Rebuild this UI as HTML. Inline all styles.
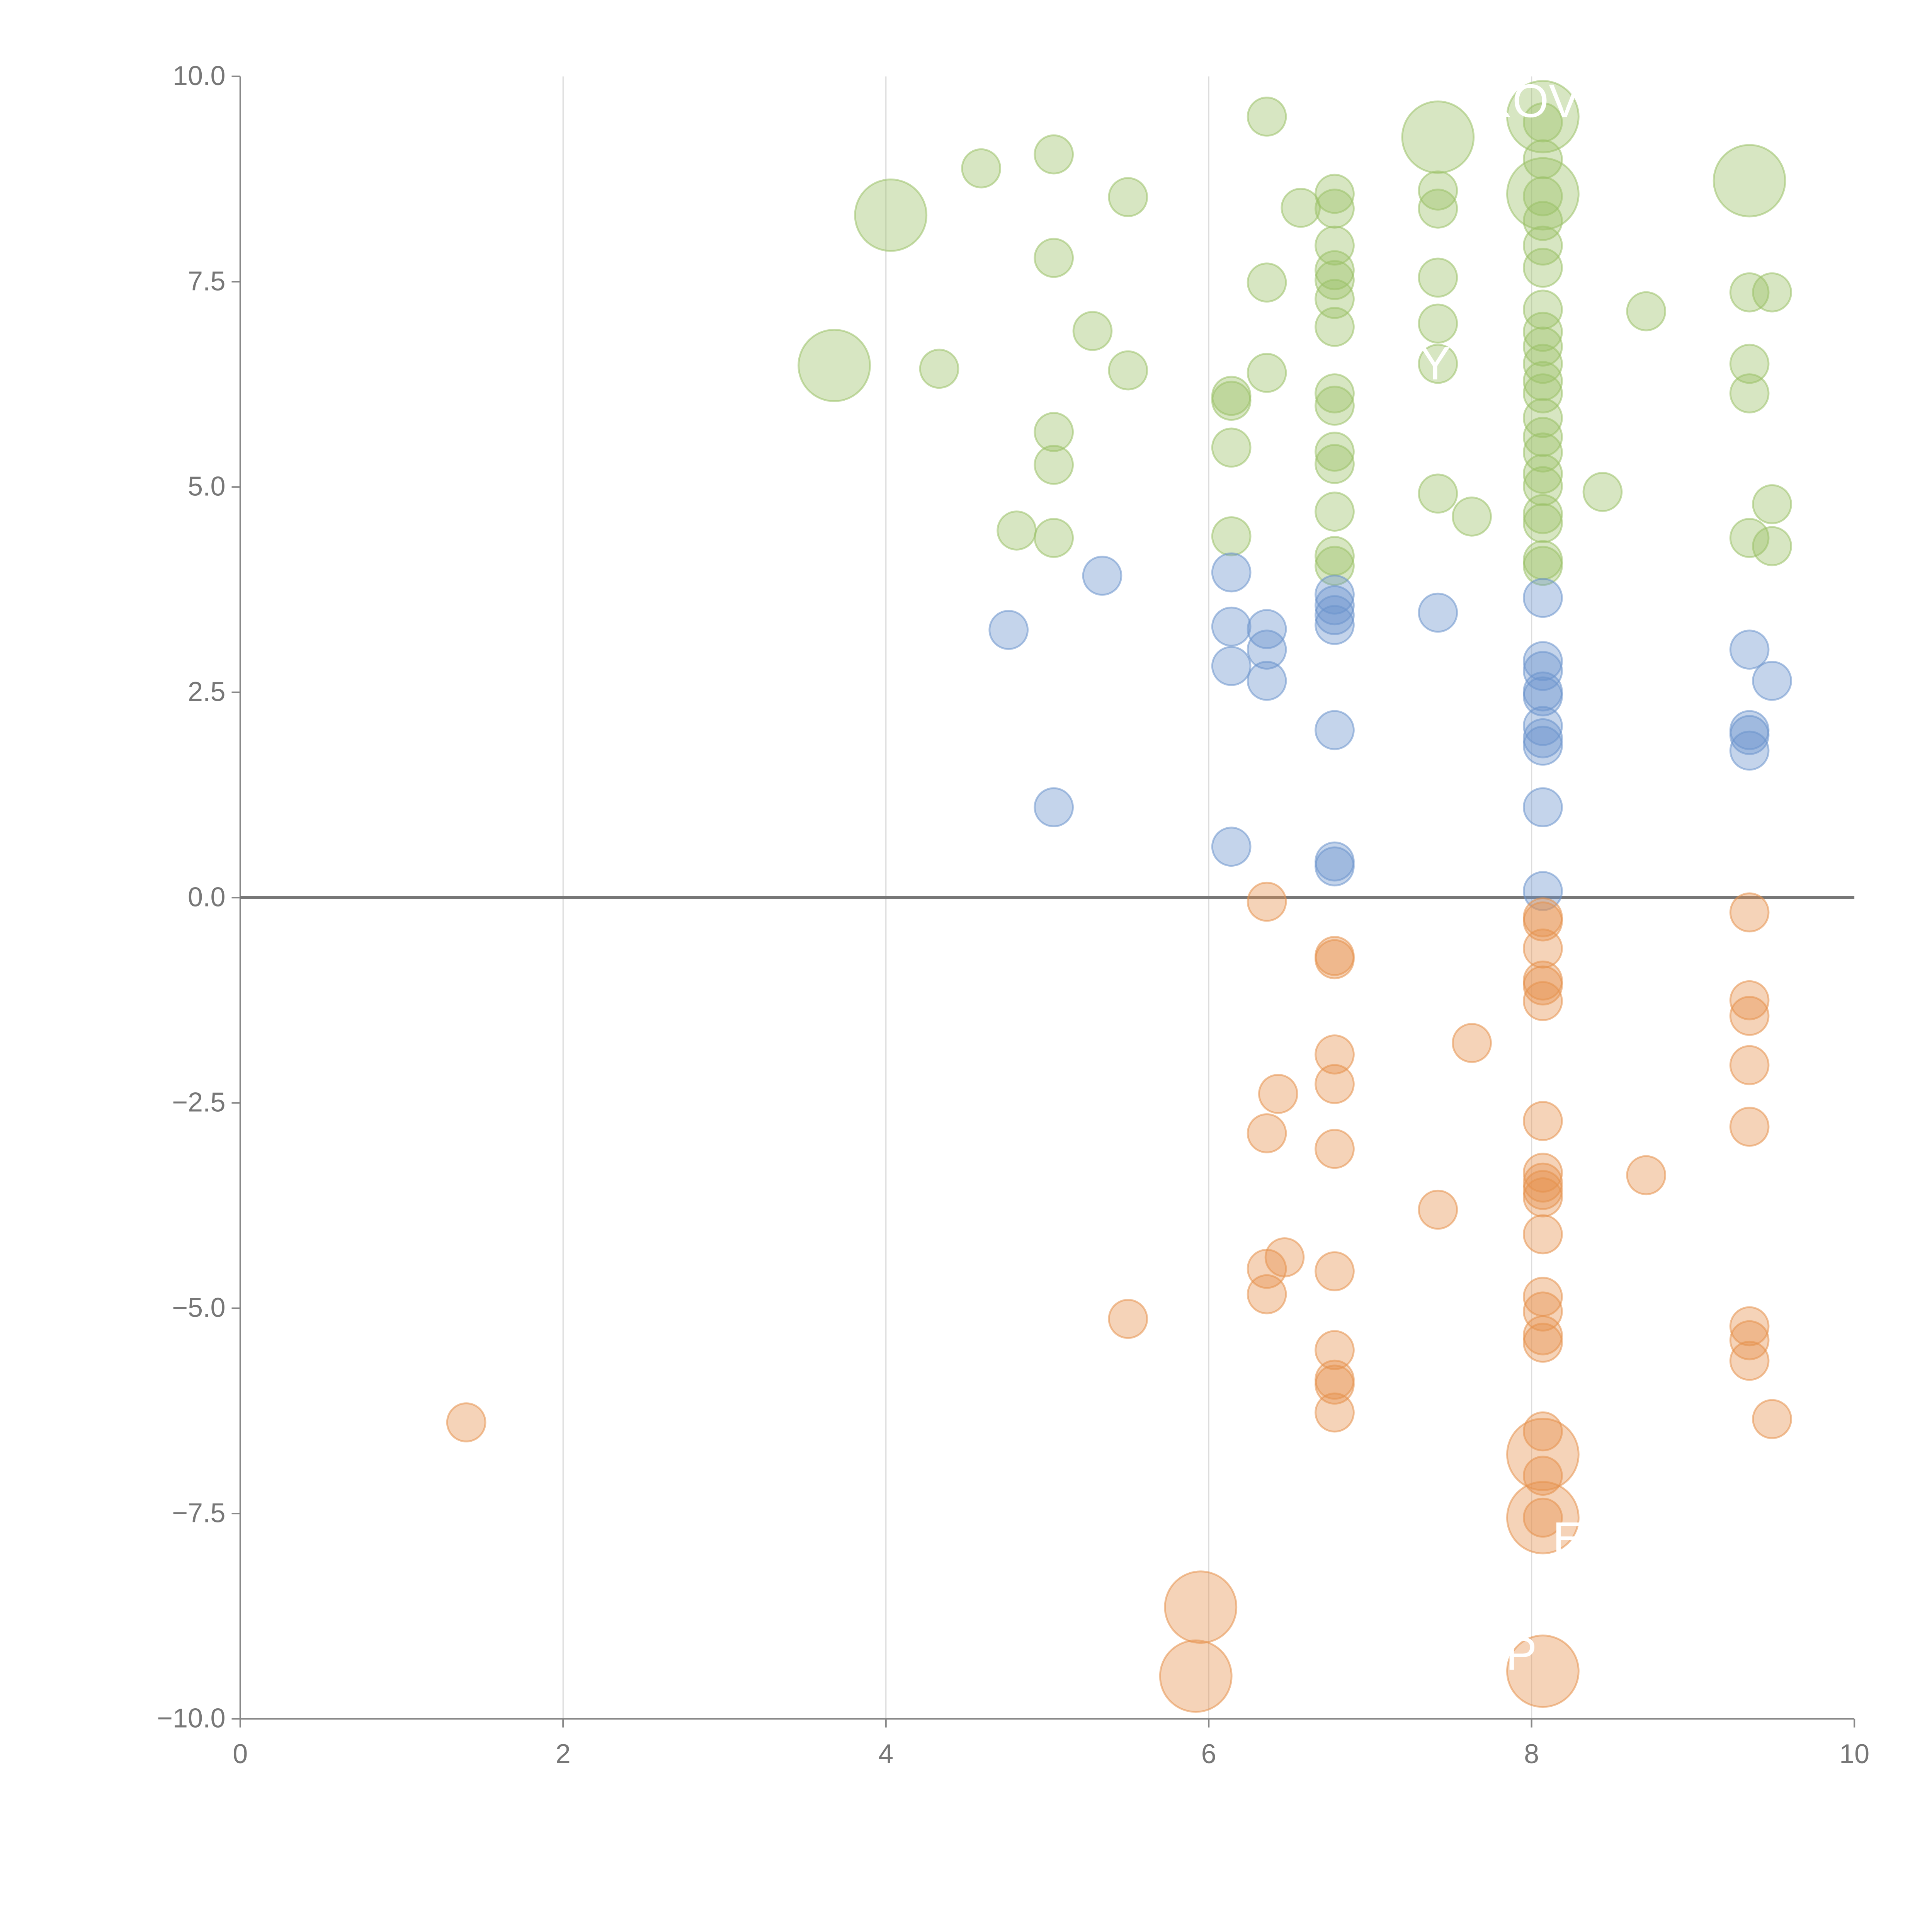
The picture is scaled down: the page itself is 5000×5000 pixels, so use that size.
<!DOCTYPE html>
<html><head><meta charset="utf-8"><style>
html,body{margin:0;padding:0;background:#fff}
svg{display:block}
text{font-family:"Liberation Sans",Arial,sans-serif;fill:#777}
</style></head><body>
<svg id="chart" width="5000" height="5000" viewBox="0 0 1568 1568" xmlns="http://www.w3.org/2000/svg">
<g id="grid"></g>
<g id="axes"></g>
<g id="marks"></g>
<g id="labels"></g>
</svg>
<script>
const xTicks=[0,2,4,6,8,10];
const yTicks=[-10,-7.5,-5,-2.5,0,2.5,5,7.5,10];
const yTickLabels=["\u221210.0","\u22127.5","\u22125.0","\u22122.5","0.0","2.5","5.0","7.5","10.0"];
const greenX=[6.36,5.04,4.59,5.50,4.03,7.42,8.07,8.07,9.35,3.68,6.57,
6.78,6.78,6.78,6.78,6.78,6.78,6.78,6.78,6.78,6.78,6.78,6.78,6.78,6.78,
7.42,7.42,7.42,7.42,7.42,7.42,7.63,6.36,6.36,5.04,5.28,4.33,5.50,6.14,6.14,6.14,6.14,5.04,5.04,4.81,5.04,
8.07,8.07,8.07,8.07,8.07,8.07,8.07,8.07,8.07,8.07,8.07,8.07,8.07,8.07,8.07,8.07,8.07,8.07,8.07,8.07,8.07,
8.71,8.44,9.35,9.49,9.35,9.35,9.49,9.35,9.49];
const greenY=[9.51,9.05,8.88,8.53,8.31,9.26,9.51,8.57,8.73,6.48,8.40,
8.57,8.39,7.94,7.64,7.52,7.29,6.95,6.14,5.99,5.43,5.28,4.70,4.16,4.04,
8.61,8.39,7.55,6.99,6.50,4.92,4.64,7.49,6.39,7.79,6.90,6.44,6.42,6.11,6.05,5.48,4.40,5.67,5.27,4.47,4.38,
9.44,8.99,8.54,8.24,7.94,7.67,7.16,6.89,6.71,6.50,6.29,6.14,5.84,5.61,5.42,5.16,5.01,4.67,4.56,4.11,4.04,
7.14,4.94,7.37,7.37,6.50,6.14,4.79,4.38,4.28];
const greenBig=[0,0,0,0,1,1,1,1,1,1];
const blueX=[5.34,4.76,5.04,6.14,6.14,6.14,6.14,6.36,6.36,6.36,6.78,6.78,6.78,6.78,6.78,6.78,6.78,7.42,
8.07,8.07,8.07,8.07,8.07,8.07,8.07,8.07,8.07,8.07,9.35,9.35,9.35,9.35,9.49];
const blueY=[3.92,3.26,1.10,3.96,3.30,2.82,0.62,3.27,3.02,2.64,3.69,3.56,3.44,3.32,2.04,0.44,0.38,3.47,
3.65,2.88,2.76,2.51,2.45,2.09,1.94,1.85,1.10,0.08,3.02,2.04,1.98,1.79,2.64];
const orangeX=[1.40,5.50,6.36,6.43,6.36,6.47,6.36,6.36,6.78,6.78,6.78,6.78,6.78,6.78,6.78,6.78,6.78,6.78,7.42,7.63,8.71,
8.07,8.07,8.07,8.07,8.07,8.07,8.07,8.07,8.07,8.07,8.07,8.07,8.07,8.07,8.07,8.07,8.07,8.07,8.07,
9.35,9.35,9.35,9.35,9.35,9.35,9.35,9.35,9.49,8.07,8.07,5.95,5.92,8.07];
const orangeY=[-6.39,-5.13,-0.05,-2.39,-2.87,-4.38,-4.52,-4.83,-0.71,-0.75,-1.91,-2.27,-3.06,-4.55,-5.51,-5.87,-5.93,-6.27,-3.80,-1.77,-3.38,
-0.24,-0.29,-0.62,-1.01,-1.07,-1.26,-2.72,-3.35,-3.47,-3.56,-3.65,-4.10,-4.86,-5.04,-5.33,-5.42,-6.50,-7.04,-7.55,
-0.18,-1.25,-1.44,-2.04,-2.79,-5.22,-5.39,-5.64,-6.35,-6.78,-7.55,-8.64,-9.48,-9.42];
const orangeBigStart=49;
const NS="http://www.w3.org/2000/svg";
const X0=195,X1=1505,Y0=1395,Y1=62;
function sx(v){return X0+(v-0)/(10-0)*(X1-X0);}
function sy(v){return Y0-(v+10)/20*(Y0-Y1);}
function mk(tag,attrs,parent){const e=document.createElementNS(NS,tag);for(const k in attrs)e.setAttribute(k,attrs[k]);parent.appendChild(e);return e;}
const grid=document.getElementById('grid'),axes=document.getElementById('axes'),marks=document.getElementById('marks'),labels=document.getElementById('labels');
xTicks.forEach(t=>{
  if(t>0&&t<10){const g=mk('line',{x1:sx(t),x2:sx(t),y1:Y1,y2:Y0,stroke:'#ddd','stroke-width':1},grid);
  
  }
  const tk=mk('line',{x1:sx(t),x2:sx(t),y1:Y0,y2:Y0+7,stroke:'#888','stroke-width':1.3},axes);
  
  
  const tx=mk('text',{x:sx(t),y:Y0+36,'text-anchor':'middle','font-size':22},axes);
  tx.textContent=t;
  
  
});
yTicks.forEach((t,i)=>{
  const tk=mk('line',{x1:X0-7,x2:X0,y1:sy(t),y2:sy(t),stroke:'#888','stroke-width':1.3},axes);
  
  
  const tx=mk('text',{x:X0-12,y:sy(t)+7,'text-anchor':'end','font-size':22},axes);
  tx.textContent=yTickLabels[i];
  
  
});
const ya=mk('line',{x1:X0,x2:X0,y1:Y1,y2:Y0,stroke:'#888','stroke-width':1.3},axes);


const xa=mk('line',{x1:X0,x2:X1,y1:Y0,y2:Y0,stroke:'#888','stroke-width':1.3},axes);


const zl=mk('line',{x1:X0,x2:X1,y1:sy(0),y2:sy(0),stroke:'#777','stroke-width':2.5},axes);


function draw(xs,ys,color,isBig,name){
  xs.forEach((x,i)=>{
    const r=isBig(i)?29:15.5;
    const c=mk('circle',{cx:sx(x),cy:sy(ys[i]),r:r,fill:color,'fill-opacity':0.4,stroke:color,'stroke-opacity':0.55,'stroke-width':1.5},marks);
    
    
  });
}
draw(greenX,greenY,'#9ac167',i=>greenBig[i]===1,'green-bubble');
draw(blueX,blueY,'#6b93cc',i=>false,'blue-bubble');
draw(orangeX,orangeY,'#e6924d',i=>i>=orangeBigStart,'orange-bubble');
const lbl=[["ROV",1200,95],["Y",1152,308],["E",1260,1262],["P",1222,1355]];
lbl.forEach(l=>{const t=mk('text',{x:l[1],y:l[2],'font-size':38},labels);t.textContent=l[0];t.style.fill='#fff';

});
</script>
</body></html>
